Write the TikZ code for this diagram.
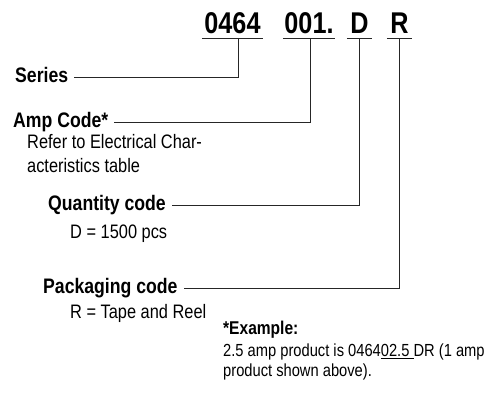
\documentclass[tikz,border=0pt]{standalone}
\usepackage{fontspec}
\setmainfont{Liberation Sans}[FakeStretch=0.84]
\usetikzlibrary{positioning, calc}

\begin{document}
\begin{tikzpicture}[
    x=1pt, y=-1pt,
    partno/.style={
      font=\fontsize{30}{32}\selectfont\bfseries, anchor=base,
      inner xsep=0pt, inner ysep=5pt, text depth=0pt,
    },
    field/.style={
      font=\fontsize{21}{24}\selectfont\bfseries, anchor=base west,
      inner ysep=0pt, inner xsep=6pt, text height=10pt, text depth=0pt,
    },
    remark/.style={
      font=\fontsize{19.5}{24}\selectfont, anchor=base west,
      inner sep=0pt, align=left,
    },
    exhead/.style={
      font=\fontsize{18.5}{20}\selectfont\bfseries, anchor=base west,
      inner sep=0pt,
    },
    exbody/.style={
      font=\fontsize{17.5}{19.5}\selectfont, anchor=base west,
      inner sep=0pt, align=left,
    },
    rule/.style={draw=black!85, line width=0.9pt},
    lead/.style={draw=black!85, line width=0.9pt},
]
\useasboundingbox (0,0) rectangle (495,399);

% Part number
\node[partno, minimum width=61pt] (p0464) at (232.5,33) {0464};
\node[partno, minimum width=52pt] (p001)  at (309,33)   {001.};
\node[partno, minimum width=25pt] (pD)    at (359.5,33) {D};
\node[partno, minimum width=25pt] (pR)    at (399.5,33) {R};

\foreach \p in {p0464, p001, pD, pR}
  \draw[rule] (\p.south west) -- (\p.south east);

% Fields
\node[field] (series)   at (9,82)   {Series};
\node[field] (ampcode)  at (7,127)  {Amp Code*};
\node[field] (qtycode)  at (42,210) {Quantity code};
\node[field] (packcode) at (37,293) {Packaging code};

% Notes (base = last line)
\node[remark] (ampnote)  at (27,172) {Refer to Electrical Char-\\acteristics table};
\node[remark] (qtynote)  at (70,238) {D = 1500 pcs};
\node[remark] (packnote) at (70,318) {R = Tape and Reel};

% Example
\node[exhead] (exhead) at (223,334) {*Example:};
\node[exbody] (exnote) at (223,376)
    {2.5 amp product is 0464\underline{02.5\ }DR (1 amp\\product shown above).};

% Leads
\draw[lead] ([xshift=5.5pt]p0464.south) |- (series.east);
\draw[lead] ([xshift=1pt]p001.south) |- (ampcode.east);
\draw[lead] (pD.south) |- (qtycode.east);
\draw[lead] (pR.south) |- (packcode.east);
\end{tikzpicture}
\end{document}
